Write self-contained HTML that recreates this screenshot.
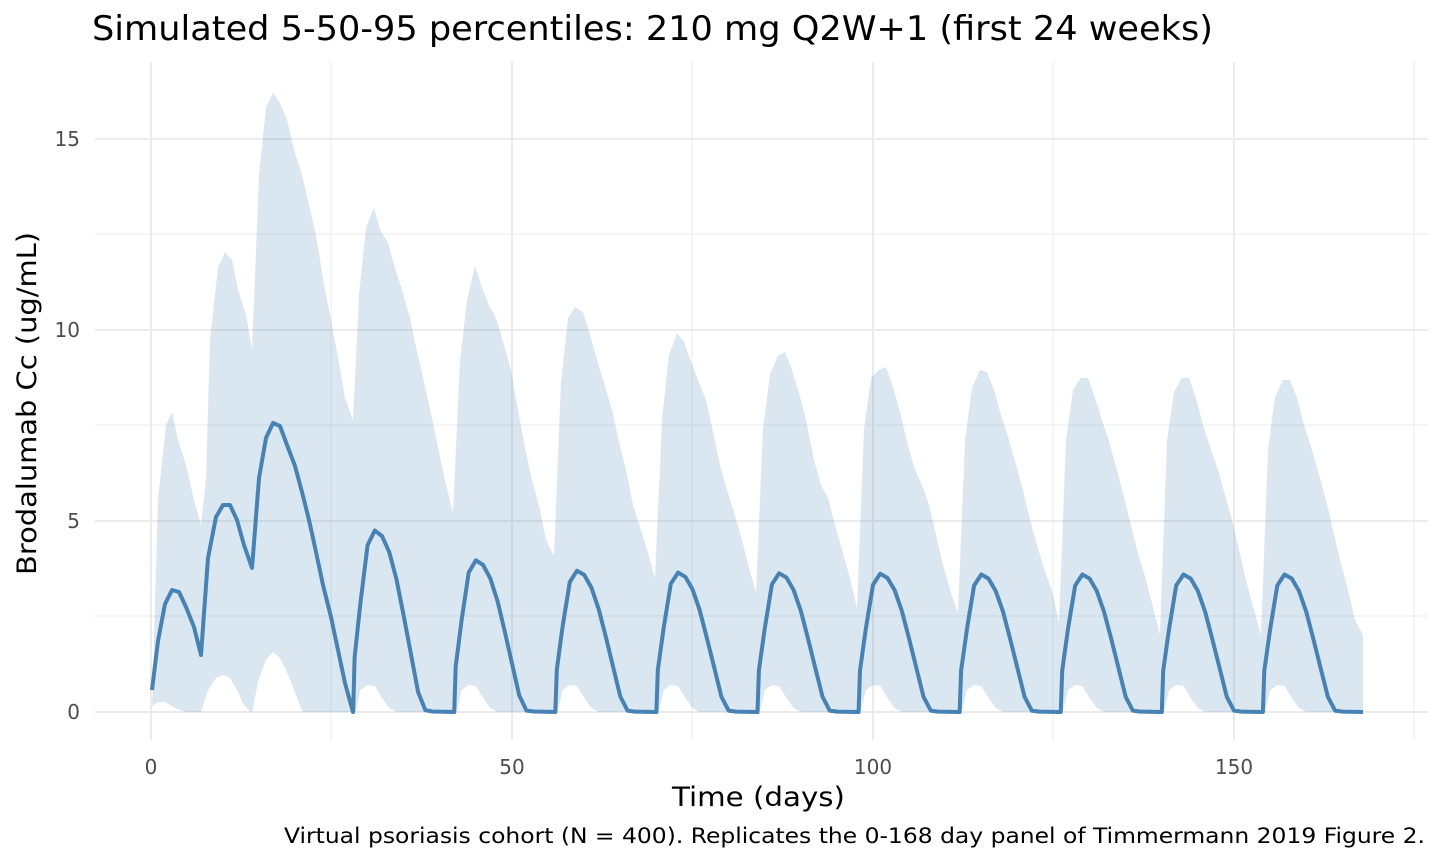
<!DOCTYPE html><html><head><meta charset="utf-8"><style>body{margin:0;background:#fff}svg{display:block}text{font-family:"DejaVu Sans","Liberation Sans",sans-serif}</style></head><body>
<svg id="s" width="1440" height="864" xmlns="http://www.w3.org/2000/svg">
<g stroke="#ebebeb" stroke-width="1">
<line x1="95" x2="1428" y1="234" y2="234"/><line x1="95" x2="1428" y1="425" y2="425"/><line x1="95" x2="1428" y1="616" y2="616"/>
<line x1="331" x2="331" y1="62" y2="740"/><line x1="692" x2="692" y1="62" y2="740"/><line x1="1053" x2="1053" y1="62" y2="740"/><line x1="1414" x2="1414" y1="62" y2="740"/>
</g>
<g stroke="#ebebeb" stroke-width="2">
<line x1="95" x2="1428" y1="139" y2="139"/><line x1="95" x2="1428" y1="330" y2="330"/><line x1="95" x2="1428" y1="521" y2="521"/><line x1="95" x2="1428" y1="712" y2="712"/>
<line x1="151" x2="151" y1="62" y2="740"/><line x1="512" x2="512" y1="62" y2="740"/><line x1="873" x2="873" y1="62" y2="740"/><line x1="1234" x2="1234" y1="62" y2="740"/>
</g>
<path id="band" fill="#4682b4" fill-opacity="0.2"/>
<path id="med" fill="none" stroke="#4682b4" stroke-width="4" stroke-linejoin="round"/>
<g fill="#4d4d4d" font-size="20" text-anchor="end">
<text x="80" y="146">15</text><text x="80" y="337">10</text><text x="80" y="528">5</text><text x="80" y="719">0</text></g>
<g fill="#4d4d4d" font-size="20" text-anchor="middle">
<text x="151" y="774">0</text><text x="512" y="774">50</text><text x="873" y="774">100</text><text x="1234" y="774">150</text></g>
<text x="672" y="806" font-size="27" textLength="173" lengthAdjust="spacingAndGlyphs">Time (days)</text>
<text transform="translate(36,575) rotate(-90)" font-size="27" textLength="343" lengthAdjust="spacingAndGlyphs">Brodalumab Cc (ug/mL)</text>
<text x="92" y="40" font-size="34" textLength="1121" lengthAdjust="spacingAndGlyphs">Simulated 5-50-95 percentiles: 210 mg Q2W+1 (first 24 weeks)</text>
<text x="284" y="843" font-size="21" textLength="1141" lengthAdjust="spacingAndGlyphs">Virtual psoriasis cohort (N = 400). Replicates the 0-168 day panel of Timmermann 2019 Figure 2.</text>
</svg>
<script>
var X=t=>151+7.22*t,Y=v=>712-38.2*v;
var up=[[152,712],[158,500],[166,425],[172,412],[178,440],[186,465],[194,500],[201,525],[206,480],[210,340],[218,268],[225,252],[232,260],[238,290],[246,315],[252,350],[259,175],[266,108],[273,93],[280,103],[287,120],[294,150],[302,175],[309,205],[316,235],[324,285],[331,320],[338,358],[345,398],[353,420],[359,295],[366,228],[374,207],[380,230],[388,243],[395,268],[402,290],[410,318],[417,352],[424,382],[432,418],[439,452],[446,485],[453,512],[460,362],[467,300],[475,266],[482,288],[489,305],[496,318],[504,345],[511,370],[518,410],[525,448],[532,480],[540,510],[546,540],[554,556],[561,383],[568,318],[575,307],[583,312],[590,335],[597,360],[604,383],[612,410],[619,442],[626,470],[633,505],[640,527],[648,553],[655,578],[662,420],[669,355],[677,333],[684,342],[691,362],[698,380],[706,400],[713,432],[720,465],[727,490],[734,512],[742,540],[749,568],[756,592],[763,430],[770,374],[778,356],[785,352],[792,370],[799,393],[806,420],[814,460],[821,485],[828,498],[835,525],[842,550],[850,578],[857,608],[864,430],[871,378],[879,370],[886,367],[893,387],[900,412],[907,442],[915,470],[922,485],[929,505],[936,535],[943,565],[951,593],[958,613],[965,440],[972,388],[980,370],[987,372],[994,390],[1001,415],[1009,440],[1016,465],[1023,490],[1030,520],[1037,545],[1045,572],[1052,590],[1059,623],[1066,440],[1073,390],[1081,378],[1088,378],[1095,398],[1102,420],[1110,445],[1117,470],[1124,497],[1131,525],[1138,553],[1146,580],[1153,607],[1160,635],[1167,440],[1174,392],[1182,378],[1189,378],[1196,398],[1203,425],[1211,450],[1218,470],[1225,495],[1232,520],[1239,550],[1246,580],[1254,610],[1261,635],[1268,450],[1275,397],[1283,380],[1290,380],[1297,398],[1304,425],[1312,450],[1319,475],[1326,500],[1333,530],[1340,560],[1348,590],[1355,620],[1363,635],[1363,712]];
var lo=[[152,706],[158,702],[165,702],[172,706],[179,710],[186,712],[201,712],[208,690],[216,678],[223,675],[230,678],[237,690],[244,705],[251,712],[252,712],[259,678],[266,660],[273,652],[280,658],[287,672],[294,690],[301,708],[303,712]];
var lt=[[0.3,712],[1,690],[2,685],[3,686],[4,698],[5,708],[6,712]];
for(var c=2;c<12;c++){var t0=14*c;lo.push([X(t0),712]);lt.forEach(p=>lo.push([X(t0+p[0]),p[1]]));}
lo.push([1363,712]);
var d="M"+up.map(p=>p.join(",")).join("L");
d+="L"+lo.reverse().map(p=>p.join(",")).join("L")+"Z";
document.getElementById("band").setAttribute("d",d);
var m=[[152,690],[158,641],[165,604],[172,590],[179,592],[186,607],[194,627],[201,655],[208,558],[216,517],[223,505],[230,505],[237,520],[244,545],[252,568],[255,530],[259,478],[266,438],[273,423],[280,426],[287,445],[295,466],[302,492],[309,520],[316,552],[323,585],[331,617],[338,650],[345,683],[353,712]];
var tp=[[0.2,0.3],[1,0.6],[2,0.92],[3,1],[4,0.97],[5,0.88],[6,0.73],[7,0.53],[8,0.32],[9,0.11],[10,0.01],[11,0.003]];
var pk=[0,0,4.75,3.97,3.7,3.65,3.63,3.62,3.6,3.6,3.6,3.6];
for(var c=2;c<12;c++){var t0=14*c;m.push([X(t0),712]);tp.forEach(p=>m.push([X(t0+p[0]).toFixed(1),Y(p[1]*pk[c]).toFixed(1)]));}
m.push([1363,712]);
document.getElementById("med").setAttribute("d","M"+m.map(p=>p.join(",")).join("L"));
</script>
</body></html>
